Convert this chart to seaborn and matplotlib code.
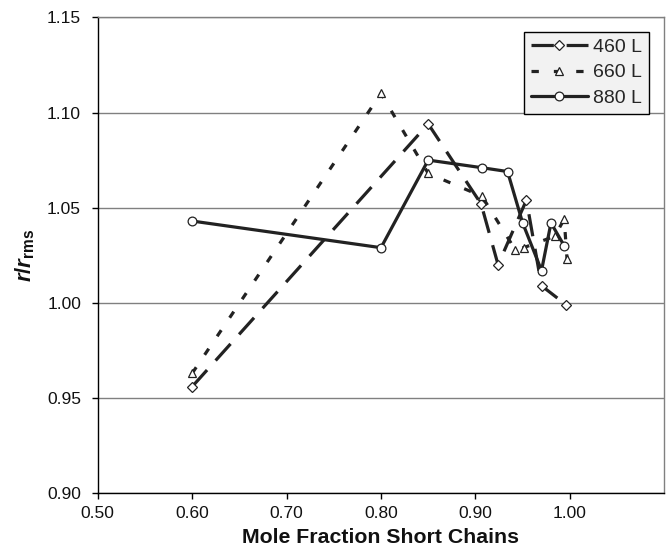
import matplotlib
matplotlib.use("Agg")
import matplotlib.pyplot as plt
import seaborn as sns
import pandas as pd

# ---- data ----
x460 = [0.600, 0.850, 0.906, 0.924, 0.954, 0.970, 0.996]
y460 = [0.956, 1.094, 1.052, 1.020, 1.054, 1.009, 0.999]

x660 = [0.600, 0.800, 0.850, 0.907, 0.942, 0.951, 0.984, 0.994, 0.997]
y660 = [0.963, 1.110, 1.068, 1.056, 1.028, 1.029, 1.035, 1.044, 1.023]

x880 = [0.600, 0.800, 0.850, 0.907, 0.934, 0.950, 0.970, 0.980, 0.994]
y880 = [1.043, 1.029, 1.075, 1.071, 1.069, 1.042, 1.017, 1.042, 1.030]

series_names = ["460 L", "660 L", "880 L"]
xticks = [0.50, 0.60, 0.70, 0.80, 0.90, 1.00]
yticks = [0.90, 0.95, 1.00, 1.05, 1.10, 1.15]
xlabel = "Mole Fraction Short Chains"

sns.set_theme(style="white")
plt.rcParams["font.family"] = ["Liberation Sans", "DejaVu Sans"]
plt.rcParams["mathtext.fontset"] = "custom"
plt.rcParams["mathtext.it"] = "Liberation Sans:bold:italic"
plt.rcParams["mathtext.rm"] = "Liberation Sans:bold"
plt.rcParams["mathtext.bf"] = "Liberation Sans:bold"

fig = plt.figure(figsize=(6.7, 5.55), dpi=100)
ax = fig.add_axes([0.1458, 0.1112, 0.9915 - 0.1458, 0.9688 - 0.1112])

line_color = "#222222"
styles = {
    "460 L": dict(marker="D", linestyle=(0, (7, 4.0)), markersize=5.0),
    "660 L": dict(marker="^", linestyle=(0, (2.3, 4.7)), markersize=6.3),
    "880 L": dict(marker="o", linestyle="-", markersize=6.3),
}
data = {"460 L": (x460, y460), "660 L": (x660, y660), "880 L": (x880, y880)}

for name in series_names:
    xs, ys = data[name]
    df = pd.DataFrame({"x": xs, "y": ys})
    st = styles[name]
    sns.lineplot(data=df, x="x", y="y", ax=ax, sort=False, color=line_color,
                 linewidth=2.3, marker=st["marker"], markersize=st["markersize"],
                 markerfacecolor="white", markeredgecolor=line_color,
                 markeredgewidth=0.9, linestyle=st["linestyle"], label=name,
                 estimator=None, zorder=3)

ax.set_xlim(0.50, 1.10)
ax.set_ylim(0.90, 1.15)
ax.set_xticks(xticks)
ax.set_xticklabels([f"{v:.2f}" for v in xticks])
ax.set_yticks(yticks)
ax.set_yticklabels([f"{v:.2f}" for v in yticks])

ax.yaxis.grid(True, color="#808080", linewidth=1.0)
ax.xaxis.grid(False)
ax.set_axisbelow(True)

for s in ["left", "bottom"]:
    ax.spines[s].set_color("#000000")
    ax.spines[s].set_linewidth(1.0)
for s in ["right", "top"]:
    ax.spines[s].set_color("#808080")
    ax.spines[s].set_linewidth(1.0)

ax.tick_params(axis="both", which="major", direction="out", length=4.5,
               width=1.0, color="#000000", labelsize=12.5, labelcolor="#111111",
               bottom=True, left=True)
ax.tick_params(axis="y", pad=7.5)
ax.tick_params(axis="x", pad=4.5)

ax.set_xlabel(xlabel, fontsize=15.3, fontweight="bold", color="#111111", labelpad=5)
ax.set_ylabel(r"$\mathit{r/r}_{\mathrm{rms}}$", fontsize=16, color="#111111", labelpad=7)

leg = ax.legend(loc="upper right", bbox_to_anchor=(0.9735, 0.970), borderaxespad=0,
                fontsize=14, frameon=True, fancybox=False, handlelength=2.9,
                labelspacing=0.4, borderpad=0.35, handletextpad=0.3)
leg.get_frame().set_edgecolor("#000000")
leg.get_frame().set_linewidth(1.0)
leg.get_frame().set_facecolor("#f2f2f2")
leg.get_frame().set_alpha(1.0)

fig.savefig("out.png", dpi=100)
